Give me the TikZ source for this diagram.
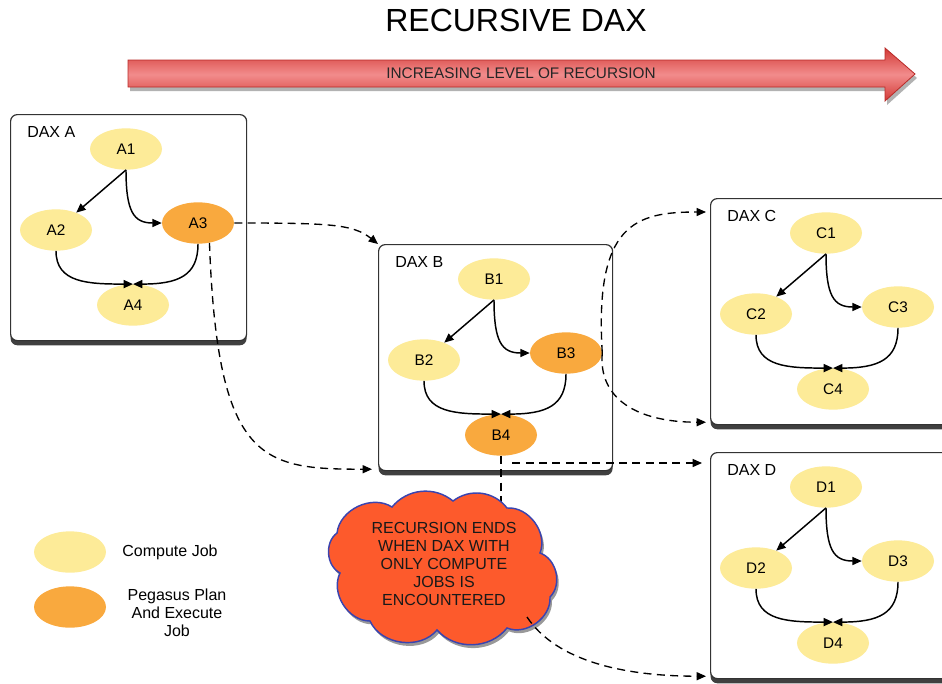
\documentclass[tikz,border=0pt]{standalone}
\usepackage{fontspec}
\setmainfont{Liberation Sans}
\usetikzlibrary{shapes.geometric,shadows,arrows.meta,calc}

\definecolor{jobyellow}{HTML}{FDEB98}
\definecolor{joborange}{HTML}{F9A93E}
\definecolor{cloudred}{HTML}{FD5A2C}
\definecolor{cloudblue}{HTML}{3A44B0}
\definecolor{arrowdark}{HTML}{D23A36}
\definecolor{arrowlight}{HTML}{F28C8C}
\definecolor{arrowedge}{HTML}{B82A28}

\tikzset{
  job/.style={ellipse, minimum width=54pt, minimum height=31pt, inner sep=0pt,
    font=\fontsize{11.5}{13}\selectfont},
  compute/.style={job, fill=jobyellow},
  planjob/.style={job, fill=joborange},
  daxbox/.style={draw=black!80, line width=0.9pt, rounded corners=5pt, fill=white,
    anchor=north west, inner sep=0pt,
    drop shadow={shadow xshift=0pt, shadow yshift=-3.5pt, fill=black!75, opacity=1}},
  daxlabel/.style={anchor=west, inner sep=0pt, font=\fontsize{12}{14}\selectfont},
  dep/.style={-{Triangle[length=7pt,width=6pt]}, line width=1.1pt, black},
  dashline/.style={line width=1pt, dash pattern=on 6pt off 4pt},
  spawn/.style={dashline, -{Triangle[length=7pt,width=6pt]}},
  legendtext/.style={align=center, font=\fontsize{12}{13.5}\selectfont},
  puff/.style={bend left=58},
}

% One DAX workflow: #1 letter, #2/#3 top-left corner, #4 box width,
% #5 style of job 3, #6 style of job 4
\newcommand\daxgraph[6]{%
  \node[daxbox, minimum width=#4*0.75pt, minimum height=169.5pt] (box#1) at (#2,#3) {};
  \begin{scope}[shift={(#2,#3)}]
    \node[daxlabel] (lbl#1) at (17,18) {DAX #1};
    \node[compute] (#11) at (116,35) {#11};
    \node[compute] (#12) at (46,116) {#12};
    \node[#5] (#13) at (188,109) {#13};
    \node[#6] (#14) at (123,191) {#14};
  \end{scope}
  \draw[dep] (#11.south) -- (#12);
  \draw[dep] (#11.south) .. controls +(0,42) and +(-28,0) .. (#13.west);
  \draw[dep] (#12.south) .. controls +(0,32) and +(-45,0) .. (#14.north);
  \draw[dep] (#13.south) .. controls +(0,32) and +(45,0) .. (#14.north);
}

\begin{document}
\begin{tikzpicture}[x=0.75pt, y=-0.75pt]
  \useasboundingbox (0,0) rectangle (942,683);
  \clip (0,0) rectangle (942,683);

  % title and recursion arrow
  \node[font=\fontsize{24}{28}\selectfont] (title) at (516,20) {RECURSIVE DAX};
  \begin{scope}[shift={(2,4)}]
    \fill[black!30] (128,60) -- (885,60) -- (885,48) -- (915,74) -- (885,101)
      -- (885,87) -- (128,87) -- cycle;
  \end{scope}
  \path[shade, top color=arrowdark, bottom color=arrowdark, middle color=arrowlight,
    draw=arrowedge, line width=0.6pt]
    (128,60) -- (885,60) -- (885,48) -- (915,74) -- (885,101) -- (885,87)
    -- (128,87) -- cycle;
  \node[font=\fontsize{11.5}{13}\selectfont, text=black!85] (leveltext) at (521,73)
    {INCREASING LEVEL OF RECURSION};

  % the four workflows
  \daxgraph{A}{10}{114}{236}{planjob}{compute}
  \daxgraph{B}{378}{244}{234}{planjob}{planjob}
  \daxgraph{C}{710}{198}{260}{compute}{compute}
  \daxgraph{D}{710}{452}{260}{compute}{compute}

  % legend
  \node[compute] (legc) at (70,552) {};
  \node[legendtext] (legctext) at (170,552) {Compute Job};
  \node[planjob] (legp) at (70,607) {};
  \node[legendtext] (legptext) at (177,613) {Pegasus Plan\\And Execute\\Job};

  % entry points of the sub-workflows
  \coordinate (bIn) at ($(boxB.south west)+(-6,-2)$);
  \coordinate (cTop) at ($(boxC.north west)+(-4,14)$);
  \coordinate (cBot) at ($(boxC.south west)+(-4,-3)$);
  \coordinate (dTop) at ($(boxD.north west)+(-8,11)$);
  \coordinate (dBot) at ($(boxD.south west)+(-4,-3)$);

  % end of recursion: a cloud made of puffs between these dents
  \coordinate (k1) at (337,533);
  \coordinate (k2) at (392,507);
  \coordinate (k3) at (453,501);
  \coordinate (k4) at (507,508);
  \coordinate (k5) at (540,553);
  \coordinate (k6) at (550,597);
  \coordinate (k7) at (507,628);
  \coordinate (k8) at (437,630);
  \coordinate (k9) at (370,621);
  \coordinate (k10) at (340,573);
  \coordinate (cloudTop) at (501,512);
  \coordinate (cloudExit) at (527,617);

  \draw[dashline] (B4.south) -- (cloudTop);
  \path[fill=cloudred, draw=cloudblue, line width=1.1pt,
    drop shadow={shadow xshift=1.5pt, shadow yshift=-2.5pt, fill=gray, opacity=0.8}]
    (k1) to[puff] (k2) to[bend left=45] (k3) to[bend left=45] (k4) to[puff] (k5)
    to[puff] (k6) to[puff] (k7) to[bend left=50] (k8) to[puff] (k9)
    to[puff] (k10) to[puff] (k1) -- cycle;
  \node[legendtext, text=black!90] (cloudtext) at (444,564)
    {RECURSION ENDS\\WHEN DAX WITH\\ONLY COMPUTE\\JOBS IS\\ENCOUNTERED};

  % planning jobs spawn sub-workflows
  \draw[spawn] (A3.east) .. controls +(95,0) and +(-25,-20) .. (boxB.north west);
  \draw[spawn] (A3.-60) .. controls +(8,220) and +(-110,0) .. (bIn);
  \draw[spawn] (B3.east) .. controls +(-8,-130) and +(-70,0) .. (cTop);
  \draw[spawn] (B3.east) .. controls +(-4,45) and +(-70,0) .. (cBot);
  \draw[spawn] (B4.-60 |- dTop) -- (dTop);
  \draw[spawn] (cloudExit) .. controls +(30,45) and +(-80,0) .. (dBot);
\end{tikzpicture}
\end{document}
